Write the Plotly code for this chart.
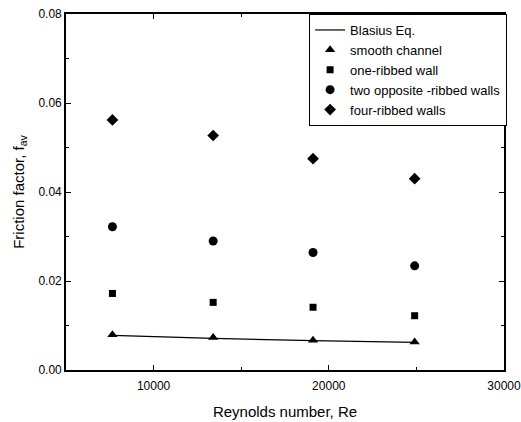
import plotly.graph_objects as go

re_vals = [7650, 13400, 19100, 24900]
blasius = [0.0078, 0.0071, 0.0066, 0.0062]
smooth = [0.0079, 0.0073, 0.0067, 0.0063]
one_ribbed = [0.0172, 0.0152, 0.0141, 0.0122]
two_ribbed = [0.0322, 0.0290, 0.0264, 0.0234]
four_ribbed = [0.0562, 0.0527, 0.0475, 0.0430]

FONT = "Arial, Liberation Sans, Helvetica, sans-serif"

fig = go.Figure()
fig.add_trace(go.Scatter(x=re_vals, y=blasius, mode="lines", name="Blasius Eq.",
                         line=dict(color="black", width=1.2)))
fig.add_trace(go.Scatter(x=re_vals, y=smooth, mode="markers", name="smooth channel",
                         marker=dict(symbol="triangle-up", size=9, color="black")))
fig.add_trace(go.Scatter(x=re_vals, y=one_ribbed, mode="markers", name="one-ribbed wall",
                         marker=dict(symbol="square", size=7, color="black")))
fig.add_trace(go.Scatter(x=re_vals, y=two_ribbed, mode="markers", name="two opposite -ribbed walls",
                         marker=dict(symbol="circle", size=9, color="black")))
fig.add_trace(go.Scatter(x=re_vals, y=four_ribbed, mode="markers", name="four-ribbed walls",
                         marker=dict(symbol="diamond", size=9, color="black")))

axis_common = dict(
    showgrid=False, zeroline=False, showline=True, linecolor="black", linewidth=1.6,
    mirror="allticks", ticks="inside", ticklen=5, tickwidth=1, tickcolor="black",
    tickfont=dict(family=FONT, size=12, color="black"),
    ticklabeloverflow="allow", automargin=False,
)

fig.update_xaxes(
    range=[5000, 30000], tickvals=[10000, 20000, 30000],
    ticktext=["10000", "20000", "30000"],
    ticklabelstandoff=4,
    minor=dict(ticks="inside", ticklen=3, tickcolor="black", dtick=5000, tick0=5000),
    title=dict(text="Reynolds number, Re", font=dict(family=FONT, size=15, color="black"), standoff=14),
    **axis_common,
)
fig.update_yaxes(
    range=[0, 0.08], tickvals=[0, 0.02, 0.04, 0.06, 0.08],
    ticktext=["0.00", "0.02", "0.04", "0.06", "0.08"],
    minor=dict(ticks="inside", ticklen=3, tickcolor="black", dtick=0.01, tick0=0),
    title=dict(text="Friction factor, f<sub>av</sub>", font=dict(family=FONT, size=15, color="black"), standoff=10),
    **axis_common,
)

fig.update_layout(
    width=521, height=422,
    margin=dict(l=66, r=17, t=14, b=52, autoexpand=False),
    paper_bgcolor="white", plot_bgcolor="white",
    showlegend=True,
    legend=dict(x=0.555, y=1, xanchor="left", yanchor="top",
                bgcolor="white", bordercolor="black", borderwidth=1,
                font=dict(family=FONT, size=13, color="black")),
)

fig.write_html("out.html")
